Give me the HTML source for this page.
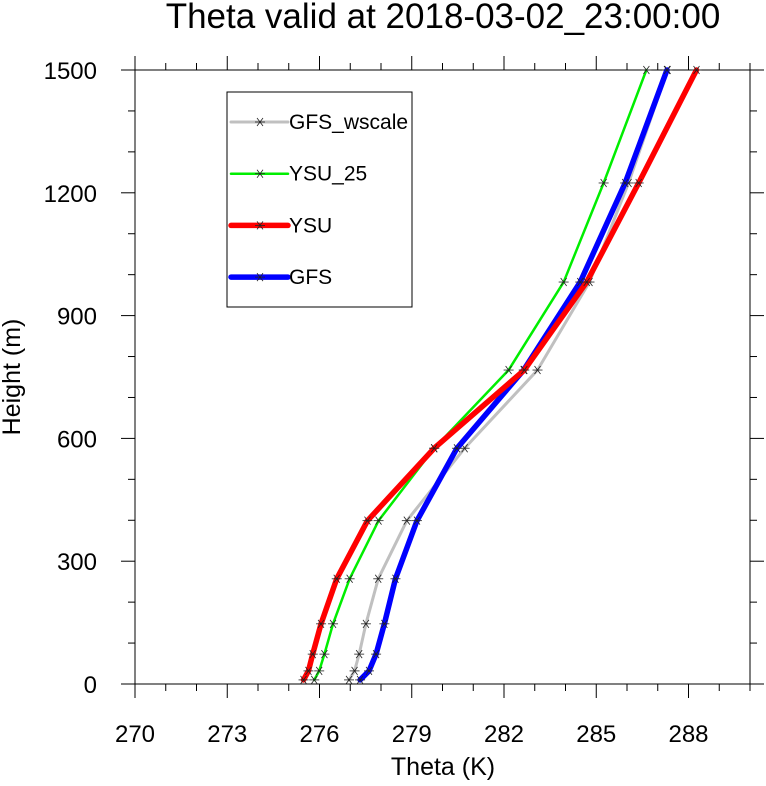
<!DOCTYPE html>
<html><head><meta charset="utf-8"><style>
body{margin:0;background:#fff;}
svg text{font-family:"Liberation Sans",sans-serif;fill:#000;}
</style></head><body>
<svg id="chart" width="766" height="781" xmlns="http://www.w3.org/2000/svg">
<text x="443" y="28" font-size="35" text-anchor="middle">Theta valid at 2018-03-02_23:00:00</text>
<g id="axes"></g>
<g id="series"></g>
<text x="443" y="775" font-size="25" text-anchor="middle">Theta (K)</text>
<text transform="translate(20,377) rotate(-90)" font-size="25" text-anchor="middle">Height (m)</text>
<g>
<rect x="227" y="92" width="185" height="215" fill="#fff" stroke="#000" stroke-width="1"/>
<g id="legend-items"></g>
</g>
</svg>
<script>
const heights=[10,32,73,147,257,399,576,767,982,1224,1500];
const seriesNames=["GFS_wscale","YSU_25","YSU","GFS"];
const gfsWscale=[276.96,277.14,277.29,277.51,277.91,278.84,280.72,283.09,284.78,286.05,287.32];
const ysu25=[275.83,275.99,276.16,276.44,276.98,277.92,279.73,282.15,283.94,285.24,286.63];
const ysu=[275.48,275.64,275.78,276.05,276.56,277.56,279.73,282.66,284.69,286.38,288.26];
const gfs=[277.32,277.61,277.84,278.11,278.47,279.17,280.47,282.64,284.48,285.94,287.30];
const xTicks=[270,273,276,279,282,285,288];
const yTicks=[0,300,600,900,1200,1500];
const NS="http://www.w3.org/2000/svg";
const L=135,R=750,T=70,B=684,xmin=270,xmax=290,ymin=0,ymax=1500;
const xs=v=>L+(v-xmin)/(xmax-xmin)*(R-L);
const ys=v=>B-(v-ymin)/(ymax-ymin)*(B-T);
function mk(tag,attrs,parent){const e=document.createElementNS(NS,tag);for(const k in attrs)e.setAttribute(k,attrs[k]);parent.appendChild(e);return e;}
const ax=document.getElementById('axes');
const frame=mk('rect',{x:L,y:T,width:R-L,height:B-T,fill:'none',stroke:'#000','stroke-width':1},ax);


for(let v=xmin;v<=xmax;v+=1){const maj=xTicks.includes(v);const len=maj?14:7;const x=xs(v);
 mk('line',{x1:x,x2:x,y1:B,y2:B+len,stroke:'#000'},ax);mk('line',{x1:x,x2:x,y1:T,y2:T-len,stroke:'#000'},ax);}
for(let v=ymin;v<=ymax;v+=100){const maj=yTicks.includes(v);const len=maj?14:7;const y=ys(v);
 mk('line',{x1:L,x2:L-len,y1:y,y2:y,stroke:'#000'},ax);mk('line',{x1:R,x2:R+len,y1:y,y2:y,stroke:'#000'},ax);}
xTicks.forEach(v=>{const t=mk('text',{x:xs(v),y:B+58,'font-size':24,'text-anchor':'middle'},ax);t.textContent=v;
 
 });
yTicks.forEach(v=>{const t=mk('text',{x:L-38,y:ys(v)+9,'font-size':24,'text-anchor':'end'},ax);t.textContent=v;
 
 });
function star(g,x,y){const s=5;
 mk('line',{x1:x-s,x2:x+s,y1:y,y2:y,stroke:'#222','stroke-width':0.8},g);
 mk('line',{x1:x-s*0.6,x2:x+s*0.6,y1:y-s*0.8,y2:y+s*0.8,stroke:'#222','stroke-width':0.8},g);
 mk('line',{x1:x-s*0.6,x2:x+s*0.6,y1:y+s*0.8,y2:y-s*0.8,stroke:'#222','stroke-width':0.8},g);}
const styles=[{d:gfsWscale,c:'#c0c0c0',w:3,n:'GFS_wscale'},{d:ysu25,c:'#00ee00',w:2.5,n:'YSU_25'},{d:gfs,c:'#0000ff',w:5.5,n:'GFS'},{d:ysu,c:'#ff0000',w:5.5,n:'YSU'}];
const sg=document.getElementById('series');
styles.forEach(s=>{const g=mk('g',{},sg);
 
 
 const pts=s.d.map((v,i)=>xs(v)+','+ys(heights[i])).join(' ');
 mk('polyline',{points:pts,fill:'none',stroke:s.c,'stroke-width':s.w,'stroke-linejoin':'round','stroke-linecap':'round'},g);
 s.d.forEach((v,i)=>star(g,xs(v),ys(heights[i])));});
const lg=document.getElementById('legend-items');
const legCol={"GFS_wscale":['#c0c0c0',3],"YSU_25":['#00ee00',2.5],"YSU":['#ff0000',5.5],"GFS":['#0000ff',5.5]};
seriesNames.forEach((n,i)=>{const y=122+i*51.7;const g=mk('g',{},lg);
 
 
 mk('line',{x1:231,x2:288,y1:y,y2:y,stroke:legCol[n][0],'stroke-width':legCol[n][1],'stroke-linecap':'round'},g);
 star(g,260,y);
 const t=mk('text',{x:289,y:y+7,'font-size':21},g);t.textContent=n;});
</script>
</body></html>
